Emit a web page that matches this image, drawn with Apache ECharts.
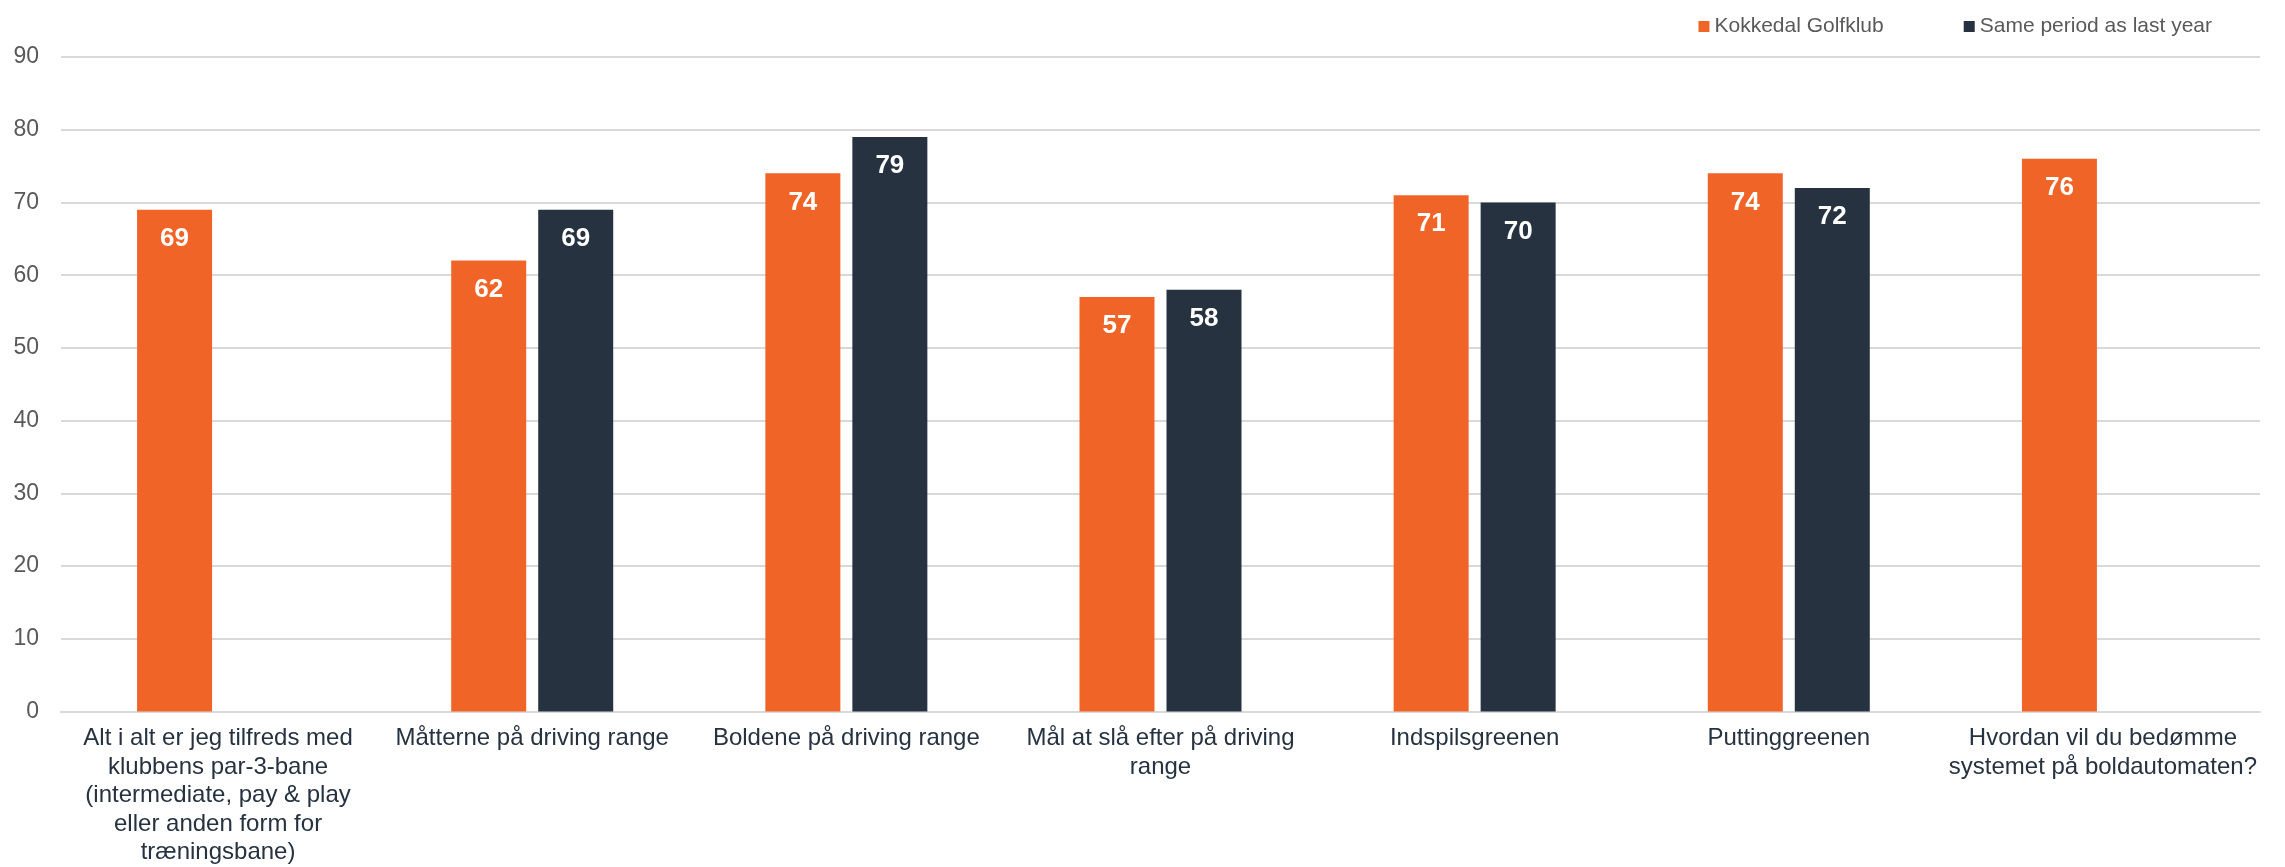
<!DOCTYPE html>
<html>
<head>
<meta charset="utf-8">
<script src="https://cdn.jsdelivr.net/npm/echarts@6/dist/echarts.min.js"></script>
<style>
html,body{margin:0;padding:0;background:#fff;}
#chart{width:2285px;height:867px;}
</style>
</head>
<body>
<div id="chart"></div>
<script>
const categories = [
  "Alt i alt er jeg tilfreds med\nklubbens par-3-bane\n(intermediate, pay & play\neller anden form for\ntræningsbane)",
  "Måtterne på driving range",
  "Boldene på driving range",
  "Mål at slå efter på driving\nrange",
  "Indspilsgreenen",
  "Puttinggreenen",
  "Hvordan vil du bedømme\nsystemet på boldautomaten?"
];
const seriesNames = ["Kokkedal Golfklub", "Same period as last year"];
const kokkedal = [69, 62, 74, 57, 71, 74, 76];
const lastYear = [null, 69, 79, 58, 70, 72, null];
const yTicks = { min: 0, max: 90, interval: 10 };

const chart = echarts.init(document.getElementById('chart'));
const font = '"Liberation Sans", Arial, sans-serif';
const labelOpt = {
  show: true, position: 'insideTop', distance: 16,
  color: '#ffffff', fontWeight: 'bold', fontSize: 26, fontFamily: font
};
chart.setOption({
  animation: false,
  backgroundColor: '#ffffff',
  legend: {
    top: 11, right: 68,
    itemWidth: 11, itemHeight: 11, itemGap: 80,
    icon: 'rect',
    textStyle: { color: '#595959', fontSize: 21, fontFamily: font },
    data: seriesNames
  },
  grid: { left: 61, right: 25, top: 57, bottom: 153, containLabel: false },
  xAxis: {
    type: 'category',
    data: categories,
    axisLine: { show: true, lineStyle: { color: '#d9d9d9', width: 2 } },
    axisTick: { show: false },
    axisLabel: {
      interval: 0, margin: 13,
      color: '#263240', fontSize: 24, lineHeight: 28.5, fontFamily: font, align: 'center'
    }
  },
  yAxis: {
    type: 'value',
    min: yTicks.min, max: yTicks.max, interval: yTicks.interval,
    axisLine: { show: false },
    axisTick: { show: false },
    splitLine: { lineStyle: { color: '#d9d9d9', width: 2 } },
    axisLabel: { color: '#595959', fontSize: 23, fontFamily: font, margin: 22 }
  },
  series: [
    {
      name: seriesNames[0], type: 'bar', data: kokkedal,
      barWidth: 75, barGap: '16%',
      itemStyle: { color: '#F06428' },
      label: labelOpt
    },
    {
      name: seriesNames[1], type: 'bar', data: lastYear,
      barWidth: 75, barGap: '16%',
      itemStyle: { color: '#263240' },
      label: labelOpt
    }
  ]
});
</script>
</body>
</html>
